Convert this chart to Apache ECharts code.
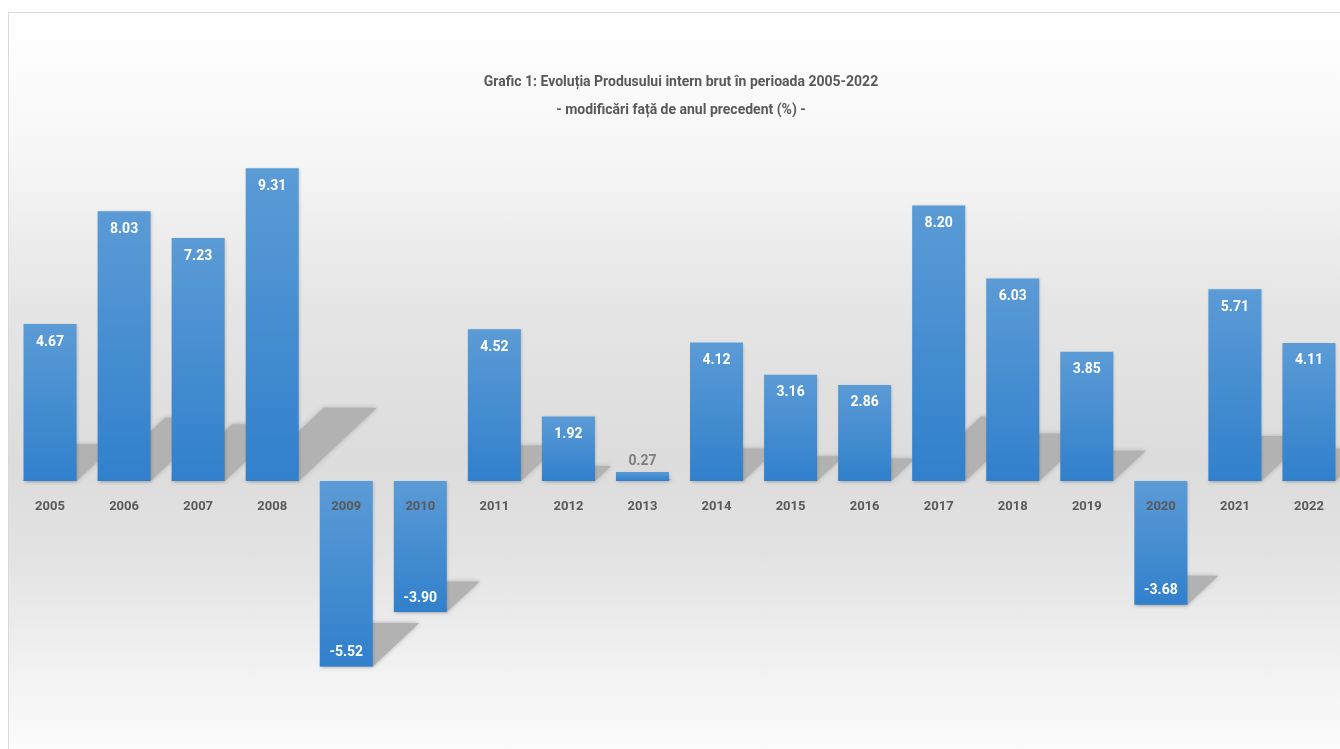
<!DOCTYPE html>
<html>
<head>
<meta charset="utf-8">
<script src="https://cdn.jsdelivr.net/npm/echarts@6/dist/echarts.min.js"></script>
<style>
  html, body { margin: 0; padding: 0; background: #ffffff; }
  #frame {
    position: absolute; left: 8px; top: 12px; width: 1340px; height: 750px;
    border: 1px solid #d9d9d9; box-sizing: border-box;
    background: linear-gradient(to bottom, #ffffff 0%, #f7f7f7 18%, #e6e6e6 38%, #dcdcdc 60%, #e2e2e2 72%, #f2f2f2 88%, #fdfdfd 100%);
  }
  #chart { position: absolute; left: 0; top: 0; width: 1340px; height: 749px; }
</style>
</head>
<body>
<div id="frame"></div>
<div id="chart"></div>
<script>
const categories = ['2005','2006','2007','2008','2009','2010','2011','2012','2013','2014','2015','2016','2017','2018','2019','2020','2021','2022'];
const gdpGrowth = [4.67, 8.03, 7.23, 9.31, -5.52, -3.90, 4.52, 1.92, 0.27, 4.12, 3.16, 2.86, 8.20, 6.03, 3.85, -3.68, 5.71, 4.11];
const titleLines = ['Grafic 1: Evoluția Produsului intern brut în perioada 2005-2022', '- modificări față de anul precedent (%) -'];

const FONT = 'Roboto, "Liberation Sans", sans-serif';
const BAR_RATIO = 0.716;
const Y_MIN = -8, Y_MAX = 12;
const GRID_TOP = 77.8, GRID_H = 672;

const barData = gdpGrowth.map(function (v) {
  let label;
  if (v < 0) {
    label = { position: 'insideBottom', distance: 7, color: '#ffffff' };
  } else if (v < 1) {
    label = { position: 'top', distance: 3, color: '#7f7f7f' };
  } else {
    label = { position: 'insideTop', distance: 11, color: '#ffffff' };
  }
  return { value: v, label: label };
});
const shadowData = gdpGrowth.map(function (v, i) { return [i, v]; });

// axis sits on the zero line: shift it up from the grid bottom by the height of the negative part
const zeroOffset = -GRID_H * (0 - Y_MIN) / (Y_MAX - Y_MIN);

const chart = echarts.init(document.getElementById('chart'), null, { renderer: 'canvas' });
chart.setOption({
  backgroundColor: 'transparent',
  animation: false,
  title: {
    text: titleLines.join('\n'),
    left: 676, top: 63, textAlign: 'center',
    textStyle: { fontFamily: FONT, fontSize: 14, fontWeight: 'bold', color: '#595959', lineHeight: 28 }
  },
  grid: { left: 13, top: GRID_TOP, width: 1333, height: GRID_H, outerBoundsMode: 'none', containLabel: false },
  xAxis: {
    type: 'category', data: categories, z: 10, position: 'bottom', offset: zeroOffset,
    axisLine: { show: false, onZero: false },
    axisTick: { show: false },
    axisLabel: { fontFamily: FONT, fontSize: 13, fontWeight: 'bold', color: '#595959', margin: 19, interval: 0 },
    splitLine: { show: false }
  },
  yAxis: {
    type: 'value', min: Y_MIN, max: Y_MAX, interval: 2, show: false,
    splitLine: { show: false }
  },
  series: [
    {
      type: 'custom', z: 1,
      data: shadowData,
      encode: { x: 0, y: 1 },
      silent: true,
      renderItem: function (params, api) {
        const idx = api.value(0), v = api.value(1);
        const p0 = api.coord([idx, 0]);
        const p1 = api.coord([idx, v]);
        const w = api.size([1, 0])[0] * BAR_RATIO;
        const xl = p0[0] - w / 2, xr = p0[0] + w / 2;
        const yb = Math.max(p0[1], p1[1]);
        const s = Math.abs(p1[1] - p0[1]) * 0.234;
        const dx = s * 1.07;
        return {
          type: 'polygon',
          shape: { points: [[xl, yb], [xr, yb], [xr + dx, yb - s], [xl + dx, yb - s]] },
          style: { fill: '#b2b2b2', shadowBlur: 4, shadowColor: 'rgba(160,160,160,0.8)' }
        };
      }
    },
    {
      type: 'bar', z: 3,
      data: barData,
      barWidth: (BAR_RATIO * 100) + '%',
      itemStyle: {
        color: new echarts.graphic.LinearGradient(0, 0, 0, 1, [
          { offset: 0, color: '#5b9bd6' },
          { offset: 1, color: '#3180cc' }
        ]),
        shadowBlur: 3, shadowColor: 'rgba(0,0,0,0.18)', shadowOffsetX: 1, shadowOffsetY: 1
      },
      label: {
        show: true, fontFamily: FONT, fontSize: 14, fontWeight: 'bold',
        formatter: function (p) { return p.value.toFixed(2); }
      }
    }
  ]
});
</script>
</body>
</html>
